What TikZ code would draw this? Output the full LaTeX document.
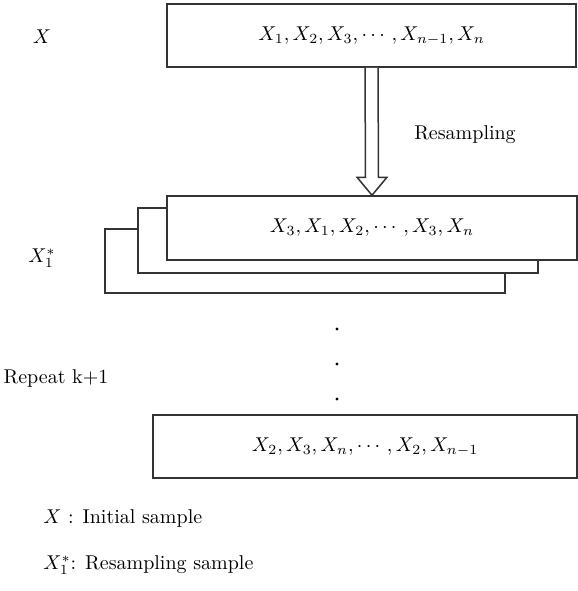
\documentclass[tikz,border=0pt]{standalone}
\usepackage{amsmath,amssymb}
\usepackage{tikz}
\usetikzlibrary{positioning,calc}

\tikzset{
  samplebox/.style={draw=black!80, line width=0.75pt, fill=white, inner sep=0pt},
  lbl/.style={inner sep=0pt},
}

\begin{document}
\begin{tikzpicture}[x=0.5pt, y=-0.5pt, font=\normalsize]
  \useasboundingbox (0,0) rectangle (578,591);
  \def\u{0.5pt} % one pixel
  % Initial sample
  \node[samplebox, minimum width={409*\u}, minimum height={63*\u}] (init) at (371.5,35.5)
    {$X_1, X_2, X_3, \cdots, X_{n-1}, X_n$};
  \node[lbl] (xlab) at (42,37) {$X$};
  % Resampled copies, back to front
  \node[samplebox, minimum width={400*\u}, minimum height={64*\u}] (back2) at (305,261) {};
  \node[samplebox, minimum width={400*\u}, minimum height={65*\u}] (back1) at (338,240.5) {};
  \node[samplebox, minimum width={410*\u}, minimum height={64*\u}] (front) at (372,228)
    {$X_3, X_1, X_2, \cdots, X_3, X_n$};
  \node[lbl] (xslab) at (42,258) {$X_1^{*}$};
  % Hollow arrow
  \draw[draw=black!80, line width=0.75pt, fill=white]
    ($(init.south)+(-6.5,0)$) -- ($(front.north)+(-6.5,-18)$) -- ($(front.north)+(-15,-18)$)
    -- (front.north) -- ($(front.north)+(15,-18)$) -- ($(front.north)+(6.5,-18)$)
    -- ($(init.south)+(6.5,0)$);
  \node[lbl] (resamp) at (465,135) {Resampling};
  % Dots
  \foreach \yy in {329,364,399}
    \fill (337,\yy) circle (1.6);
  \node[lbl] (rep) at (56,378) {Repeat k+1};
  % Last resample
  \node[samplebox, minimum width={424*\u}, minimum height={63*\u}] (last) at (365,446.5)
    {$X_2, X_3, X_n, \cdots, X_2, X_{n-1}$};
  % Legend
  \node[lbl, anchor=west] (leg1) at (43,518) {$X$ : Initial sample};
  \node[lbl, anchor=west] (leg2) at (43,565) {$X_1^{*}$: Resampling sample};
\end{tikzpicture}
\end{document}
